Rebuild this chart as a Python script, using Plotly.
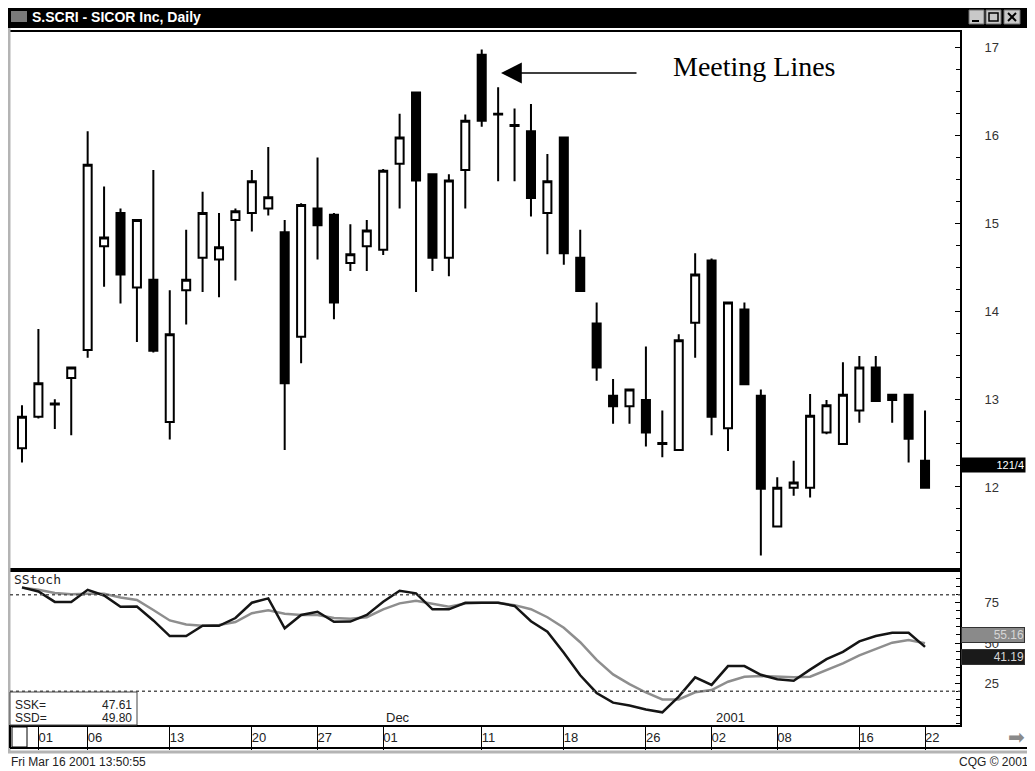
import plotly.graph_objects as go

# Fechas de negociación (barras diarias)
dates = ["2000-10-31", "2000-11-01", "2000-11-02", "2000-11-03", "2000-11-06", "2000-11-07",
         "2000-11-08", "2000-11-09", "2000-11-10", "2000-11-13", "2000-11-14", "2000-11-15",
         "2000-11-16", "2000-11-17", "2000-11-20", "2000-11-21", "2000-11-22", "2000-11-24",
         "2000-11-27", "2000-11-28", "2000-11-29", "2000-11-30", "2000-12-01", "2000-12-04",
         "2000-12-05", "2000-12-06", "2000-12-07", "2000-12-08", "2000-12-11", "2000-12-12",
         "2000-12-13", "2000-12-14", "2000-12-15", "2000-12-18", "2000-12-19", "2000-12-20",
         "2000-12-21", "2000-12-22", "2000-12-26", "2000-12-27", "2000-12-28", "2000-12-29",
         "2001-01-02", "2001-01-03", "2001-01-04", "2001-01-05", "2001-01-08", "2001-01-09",
         "2001-01-10", "2001-01-11", "2001-01-12", "2001-01-16", "2001-01-17", "2001-01-18",
         "2001-01-19", "2001-01-22"]

opens = [12.44, 12.80, 12.94, 13.24, 13.56, 14.74, 15.12, 14.27, 14.36, 12.74, 14.24, 14.61,
         14.59, 15.04, 15.12, 15.17, 14.90, 13.71, 15.17, 15.10, 14.55, 14.74, 14.70, 15.68,
         16.49, 15.56, 14.61, 15.61, 16.92, 16.25, 16.12, 16.05, 15.12, 15.98, 14.61, 13.86,
         13.04, 12.92, 12.99, 12.50, 12.42, 13.87, 14.58, 12.67, 14.02, 13.04, 11.55, 11.99,
         11.99, 12.62, 12.49, 12.87, 13.36, 13.05, 13.05, 12.30]
highs = [12.93, 13.80, 13.00, 13.37, 16.05, 15.42, 15.17, 15.05, 15.61, 14.24, 14.93, 15.36,
         15.12, 15.17, 15.61, 15.87, 15.04, 15.23, 15.75, 15.12, 14.99, 15.04, 15.62, 16.25,
         16.50, 15.57, 15.56, 16.24, 16.98, 16.55, 16.31, 16.36, 15.79, 15.99, 14.93, 14.10,
         13.23, 13.12, 13.60, 12.87, 13.74, 14.66, 14.60, 14.11, 14.10, 13.11, 12.11, 12.30,
         13.06, 12.99, 13.42, 13.49, 13.49, 13.06, 13.06, 12.87]
lows = [12.28, 12.78, 12.66, 12.59, 13.47, 14.28, 14.09, 13.65, 13.53, 12.54, 13.85, 14.22,
        14.16, 14.35, 14.91, 15.09, 12.42, 13.41, 14.59, 13.91, 14.46, 14.46, 14.64, 15.17,
        14.22, 14.46, 14.40, 15.17, 16.10, 15.48, 15.48, 15.08, 14.65, 14.53, 14.22, 13.21,
        12.72, 12.72, 12.46, 12.34, 12.41, 13.47, 12.59, 12.41, 13.16, 11.22, 11.54, 11.90,
        11.88, 12.60, 12.48, 12.73, 12.97, 12.73, 12.28, 11.98]
closes = [12.80, 13.18, 12.95, 13.36, 15.67, 14.84, 14.42, 15.04, 13.55, 13.74, 14.36, 15.12,
          14.73, 15.14, 15.48, 15.30, 13.18, 15.21, 14.98, 14.10, 14.65, 14.92, 15.60, 15.98,
          15.49, 14.61, 15.49, 16.17, 16.17, 16.24, 16.11, 15.29, 15.48, 14.66, 14.23, 13.36,
          12.92, 13.11, 12.62, 12.49, 13.67, 14.42, 12.80, 14.10, 13.17, 11.98, 11.99, 12.05,
          12.81, 12.93, 13.05, 13.36, 12.98, 12.99, 12.55, 11.99]

# Estocástico lento (SSK negro, SSD gris)
ssk = [84.5, 82.0, 75.5, 75.5, 83.0, 79.5, 72.5, 72.7, 64.0, 54.3, 54.3, 60.7, 60.7, 65.5,
       75.0, 77.7, 59.1, 67.4, 69.4, 63.2, 63.3, 67.4, 75.6, 82.4, 80.8, 70.9, 70.9, 75.0,
       75.0, 75.0, 73.0, 63.5, 57.0, 44.0, 30.0, 19.0, 13.0, 11.2, 8.7, 7.0, 16.7, 28.7,
       24.0, 35.7, 35.7, 30.3, 27.5, 26.6, 33.5, 40.0, 44.5, 51.0, 54.3, 56.3, 56.4, 47.6]
ssd = [84.3, 83.0, 81.0, 80.3, 80.5, 80.6, 78.3, 76.7, 70.5, 64.0, 61.5, 60.7, 61.2, 63.0,
       68.5, 70.3, 68.2, 67.4, 67.4, 65.5, 65.0, 66.0, 70.9, 74.6, 76.2, 74.2, 72.5, 74.5,
       75.0, 75.0, 73.5, 71.0, 66.0, 59.5, 50.5, 39.5, 30.5, 24.5, 19.3, 15.0, 15.0, 19.4,
       20.8, 26.0, 29.1, 29.5, 29.1, 28.7, 29.1, 33.0, 37.3, 42.3, 46.5, 50.2, 51.9, 49.8]

tick_idx = [1, 4, 9, 14, 18, 22, 28, 33, 38, 42, 46, 51, 55]
tick_txt = ["01", "06", "13", "20", "27", "01", "11", "18", "26", "02", "08", "16", "22"]

# la página tiene 8px de margen: la figura empieza en (8, 8)
OFF = 8
W, H = 1035 - OFF, 771 - OFF


def px(x):
    return (x - OFF) / W


def py(y):
    return 1 - (y - OFF) / H


xr = [-0.73, 57.13]
font = "Liberation Sans, Arial, sans-serif"

fig = go.Figure()
fig.add_trace(go.Candlestick(
    x=dates, open=opens, high=highs, low=lows, close=closes,
    increasing=dict(fillcolor="white", line=dict(color="black", width=2)),
    decreasing=dict(fillcolor="black", line=dict(color="black", width=2)),
    xaxis="x", yaxis="y", hoverinfo="skip"))
fig.add_trace(go.Scatter(x=dates, y=ssd, mode="lines", line=dict(color="#8e8e8e", width=2.5),
                         xaxis="x2", yaxis="y2", hoverinfo="skip"))
fig.add_trace(go.Scatter(x=dates, y=ssk, mode="lines", line=dict(color="#151515", width=2.5),
                         xaxis="x2", yaxis="y2", hoverinfo="skip"))
# traza invisible para las etiquetas de fecha
fig.add_trace(go.Scatter(x=dates, y=ssk, mode="lines", opacity=0, xaxis="x3", yaxis="y2",
                         hoverinfo="skip"))

axis_common = dict(showgrid=False, zeroline=False, showline=True, linecolor="black",
                   linewidth=2, mirror=True)

fig.update_layout(
    width=W, height=H, margin=dict(l=0, r=0, t=0, b=0),
    paper_bgcolor="white", plot_bgcolor="white", showlegend=False, hovermode=False,
    xaxis=dict(domain=[px(10), px(960)], anchor="y", type="category", range=xr,
               showticklabels=False, ticks="", rangeslider=dict(visible=False), **axis_common),
    yaxis=dict(domain=[py(570), py(32)], anchor="x", side="right", range=[11.055, 17.18],
               tickvals=[12, 13, 14, 15, 16, 17], ticks="inside", ticklen=5, tickcolor="black",
               ticklabelstandoff=20, tickfont=dict(family=font, size=13, color="#333"),
               minor=dict(dtick=0.25, tick0=12, ticks="inside", ticklen=4, tickcolor="black"),
               **axis_common),
    xaxis2=dict(domain=[px(10), px(960)], anchor="y2", type="category", range=xr,
                tickvals=[dates[i] for i in tick_idx], ticktext=[""] * len(tick_idx),
                ticks="outside", ticklen=23, tickcolor="black", tickwidth=1, **axis_common),
    xaxis3=dict(domain=[px(10), px(960)], anchor="free", position=py(728), overlaying="x2",
                type="category", range=xr, showgrid=False, zeroline=False, showline=False,
                ticks="", tickvals=[dates[i] for i in tick_idx], ticktext=tick_txt,
                ticklabelposition="outside right",
                tickfont=dict(family=font, size=13, color="#222")),
    yaxis2=dict(domain=[py(725), py(570)], anchor="x2", side="right", range=[-0.87, 95.3],
                tickvals=[25, 50, 75], ticks="inside", ticklen=5, tickcolor="black",
                ticklabelstandoff=20, tickfont=dict(family=font, size=13, color="#333"),
                minor=dict(dtick=5, tick0=0, ticks="inside", ticklen=4, tickcolor="black"),
                **axis_common),
)

shapes = [
    # marco de la ventana
    dict(type="rect", xref="paper", yref="paper", x0=px(9), x1=px(1030), y0=py(752), y1=py(9),
         line=dict(color="#b4b4b4", width=3)),
    dict(type="rect", xref="paper", yref="paper", x0=px(8), x1=px(1027), y0=py(28), y1=py(8),
         fillcolor="black", line=dict(width=0)),
    dict(type="rect", xref="paper", yref="paper", x0=px(11), x1=px(27), y0=py(22), y1=py(11),
         fillcolor="#7a7a7a", line=dict(width=0)),
    dict(type="rect", xref="paper", yref="paper", x0=px(969), x1=px(984), y0=py(24), y1=py(10),
         fillcolor="#c8c8c8", line=dict(color="#707070", width=1)),
    dict(type="rect", xref="paper", yref="paper", x0=px(986), x1=px(1001), y0=py(24), y1=py(10),
         fillcolor="#c8c8c8", line=dict(color="#707070", width=1)),
    dict(type="rect", xref="paper", yref="paper", x0=px(1004), x1=px(1020), y0=py(24), y1=py(10),
         fillcolor="#c8c8c8", line=dict(color="#707070", width=1)),
    dict(type="line", xref="paper", yref="paper", x0=px(972), x1=px(979), y0=py(21), y1=py(21),
         line=dict(color="black", width=2)),
    dict(type="rect", xref="paper", yref="paper", x0=px(989), x1=px(998), y0=py(21), y1=py(13),
         line=dict(color="black", width=1.5)),
    dict(type="line", xref="paper", yref="paper", x0=px(1008), x1=px(1016), y0=py(13), y1=py(21),
         line=dict(color="black", width=2)),
    dict(type="line", xref="paper", yref="paper", x0=px(1016), x1=px(1008), y0=py(13), y1=py(21),
         line=dict(color="black", width=2)),
    # fila de fechas
    dict(type="line", xref="paper", yref="paper", x0=px(10), x1=px(1027), y0=py(748), y1=py(748),
         line=dict(color="black", width=2)),
    dict(type="line", xref="paper", yref="paper", x0=px(10), x1=px(10), y0=py(725), y1=py(748),
         line=dict(color="black", width=2)),
    dict(type="rect", xref="paper", yref="paper", x0=px(12), x1=px(27), y0=py(747), y1=py(727),
         fillcolor="white", line=dict(color="black", width=1)),
    # niveles 80 / 20
    dict(type="line", xref="paper", yref="y2", x0=px(10), x1=px(960), y0=80, y1=80,
         line=dict(color="#555", width=1.5, dash="dot")),
    dict(type="line", xref="paper", yref="y2", x0=px(10), x1=px(960), y0=20, y1=20,
         line=dict(color="#555", width=1.5, dash="dot")),
    # caja SSK / SSD
    dict(type="rect", xref="paper", yref="paper", x0=px(10), x1=px(137), y0=py(725), y1=py(692),
         fillcolor="white", line=dict(color="#444", width=1)),
]

ann = [
    dict(x=px(30), y=py(17), xref="paper", yref="paper", xanchor="left", yanchor="middle",
         text="<b>S.SCRI - SICOR Inc, Daily</b>", showarrow=False,
         font=dict(family=font, size=14, color="white")),
    dict(x=px(671), y=py(66), xref="paper", yref="paper", xanchor="left", yanchor="middle",
         text="Meeting Lines", showarrow=False,
         font=dict(family="Liberation Serif, Times New Roman, serif", size=28, color="black")),
    dict(x=px(501), y=py(73), xref="paper", yref="paper", ax=137, ay=0, text="", showarrow=True,
         arrowhead=2, arrowsize=2.6, arrowwidth=1.6, arrowcolor="black", standoff=0),
    dict(x=px(12), y=py(579), xref="paper", yref="paper", xanchor="left", yanchor="middle",
         text="SStoch", showarrow=False,
         font=dict(family="DejaVu Sans Mono, monospace", size=13, color="#222")),
    dict(x=px(13), y=py(705), xref="paper", yref="paper", xanchor="left", yanchor="middle",
         text="SSK=", showarrow=False, font=dict(family=font, size=12, color="#222")),
    dict(x=px(134), y=py(705), xref="paper", yref="paper", xanchor="right", yanchor="middle",
         text="47.61", showarrow=False, font=dict(family=font, size=12, color="#222")),
    dict(x=px(13), y=py(718), xref="paper", yref="paper", xanchor="left", yanchor="middle",
         text="SSD=", showarrow=False, font=dict(family=font, size=12, color="#222")),
    dict(x=px(134), y=py(718), xref="paper", yref="paper", xanchor="right", yanchor="middle",
         text="49.80", showarrow=False, font=dict(family=font, size=12, color="#222")),
    dict(x=dates.index("2000-12-01"), y=py(717), xref="x2", yref="paper", xanchor="left",
         yanchor="middle", xshift=1, text="Dec", showarrow=False,
         font=dict(family=font, size=13, color="#222")),
    dict(x=dates.index("2001-01-02"), y=py(717), xref="x2", yref="paper", xanchor="left",
         yanchor="middle", xshift=2, text="2001", showarrow=False,
         font=dict(family=font, size=13, color="#222")),
    dict(x=px(960), y=12.25, xref="paper", yref="y", xanchor="left", yanchor="middle",
         text="121/4", showarrow=False, bgcolor="black", width=62, align="right", borderpad=1,
         font=dict(family=font, size=11, color="white")),
    dict(x=px(961), y=55.16, xref="paper", yref="y2", xanchor="left", yanchor="middle",
         text="55.16", showarrow=False, bgcolor="#8a8a8a", width=62, align="right",
         bordercolor="#333", borderwidth=1, borderpad=0,
         font=dict(family=font, size=12, color="#d6d6d6")),
    dict(x=px(961), y=41.19, xref="paper", yref="y2", xanchor="left", yanchor="middle",
         text="41.19", showarrow=False, bgcolor="#1a1a1a", width=62, align="right",
         bordercolor="#333", borderwidth=1, borderpad=0,
         font=dict(family=font, size=12, color="#d6d6d6")),
    dict(x=px(1016), y=py(737), xref="paper", yref="paper", xanchor="center", yanchor="middle",
         text="➡", showarrow=False, font=dict(family="DejaVu Sans", size=20, color="#8a8a8a")),
    dict(x=px(9), y=py(762), xref="paper", yref="paper", xanchor="left", yanchor="middle",
         text="Fri Mar 16 2001 13:50:55", showarrow=False,
         font=dict(family=font, size=12, color="#222")),
    dict(x=px(1031), y=py(762), xref="paper", yref="paper", xanchor="right", yanchor="middle",
         text="CQG © 2001", showarrow=False, font=dict(family=font, size=12, color="#222")),
]

fig.update_layout(shapes=shapes, annotations=ann)

fig.write_html("out.html")
